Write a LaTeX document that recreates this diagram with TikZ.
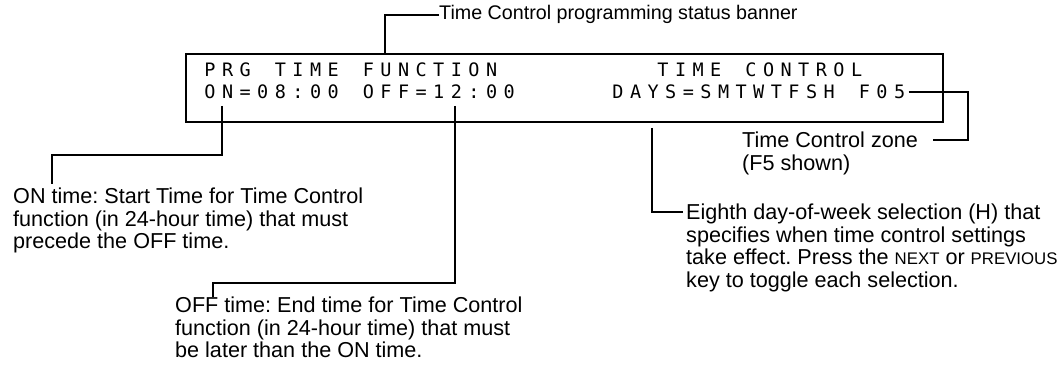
\documentclass[tikz,border=0pt]{standalone}
\usepackage{fontspec}
\setmainfont{Liberation Sans}
\newfontfamily\lcdfont{DejaVu Sans Mono}
\newlength\lcdpitch
\setlength\lcdpitch{17.6pt}
\def\lcd#1{\lcdloop#1\relax}
\def\lcdloop#1{\ifx#1\relax\else\makebox[\lcdpitch][c]{#1}\expandafter\lcdloop\fi}
\newcommand\smallkey[1]{{\fontsize{16.8}{22}\selectfont #1}}
\frenchspacing
\begin{document}
\begin{tikzpicture}[x=1pt,y=-1pt,
  lead/.style={line width=1.8pt},
  lcdbox/.style={draw,line width=1.8pt,inner sep=0,minimum width=757pt,minimum height=68pt,anchor=north west},
  lcdtext/.style={font=\lcdfont\fontsize{18.5}{20}\selectfont,anchor=base west,inner sep=0},
  note/.style={font=\fontsize{21.6}{22.5}\selectfont,align=left,anchor=north west,inner sep=0},
  banner/.style={font=\fontsize{19.7}{22}\selectfont,anchor=base west,inner sep=0}]
\useasboundingbox (0,0) rectangle (1063,371);
% LCD box
\node[lcdbox] (lcd) at (185,53) {};
\node[lcdtext] (r1a) at (201,77) {\lcd{PRG~TIME~FUNCTION}};
\node[lcdtext] (r1b) at (654,77) {\lcd{TIME~CONTROL}};
\node[lcdtext] (r2a) at (201,99) {\lcd{ON=08:00~OFF=12:00}};
\node[lcdtext] (r2b) at (609,99) {\lcd{DAYS=SMTWTFSH~F05}};
% texts
\node[banner] (banner) at (439,20) {Time Control programming status banner};
\node[note] (ontext) at (13,188) {ON time: Start Time for Time Control\\function (in 24-hour time) that must\\precede the OFF time.};
\node[note] (offtext) at (175,297) {OFF time: End time for Time Control\\function (in 24-hour time) that must\\be later than the ON time.};
\node[note] (eighth) at (686,204) {Eighth day-of-week selection (H) that\\specifies when time control settings\\take effect. Press the \smallkey{NEXT} or \smallkey{PREVIOUS}\\key to toggle each selection.};
\node[note] (zone) at (742,132) {Time Control zone\\(F5 shown)};
% connectors
\coordinate (bA) at (385,53);
\draw[lead] (banner.west) -| (bA);
\coordinate (onA) at (222,106);
\coordinate (onB) at (52,155);
\draw[lead,shorten >=4pt] (onA) |- (onB) -- (onB |- ontext.north);
\coordinate (offA) at (455,106);
\coordinate (offB) at (213,283);
\draw[lead] (offA) |- (offB) -- (offB |- offtext.north);
\coordinate (eA) at (652,128);
\coordinate (eB) at (683,212);
\draw[lead] (eA) |- (eB);
\coordinate (zA) at (968,140);
\coordinate (zB) at (933,140);
\draw[lead] (r2b.east) -| (zA) -- (zB);
\end{tikzpicture}
\end{document}
